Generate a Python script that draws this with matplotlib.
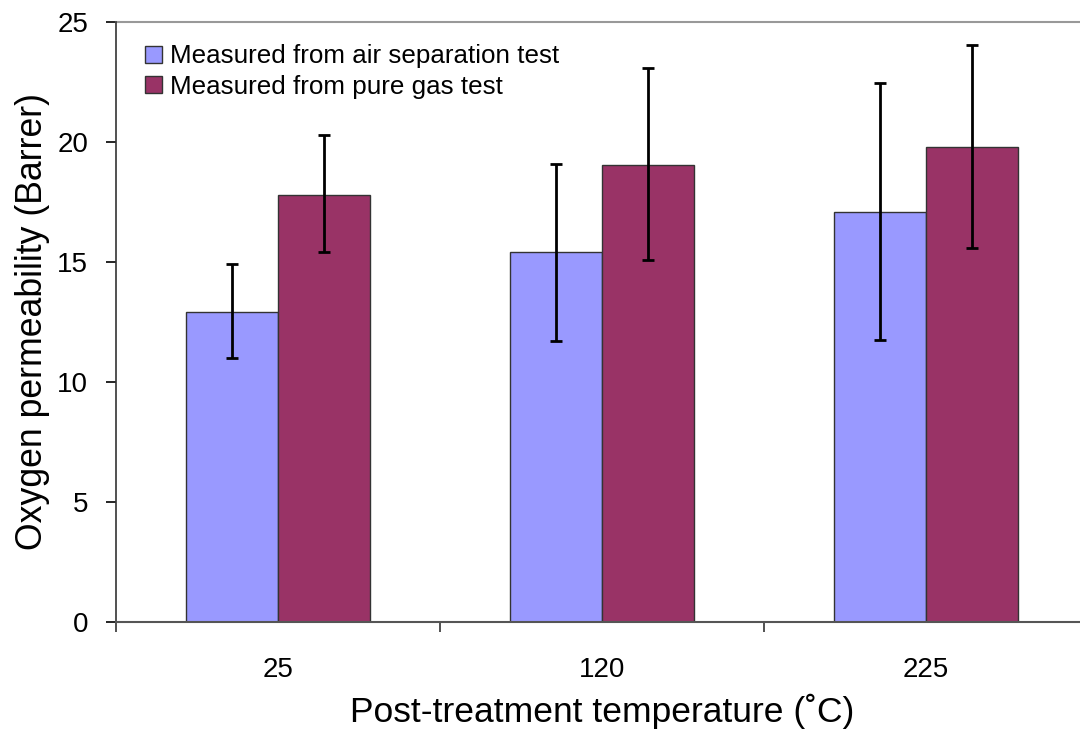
import matplotlib.pyplot as plt
import numpy as np

plt.rcParams['font.family'] = ['Liberation Sans', 'DejaVu Sans']

temps = ['25', '120', '225']
air_sep = [12.9, 15.4, 17.1]
air_lo = [11.0, 11.7, 11.75]
air_hi = [14.9, 19.1, 22.45]
pure_gas = [17.8, 19.05, 19.8]
pure_lo = [15.4, 15.1, 15.6]
pure_hi = [20.3, 23.1, 24.05]

air_sep = np.array(air_sep)
pure_gas = np.array(pure_gas)
air_err = [air_sep - np.array(air_lo), np.array(air_hi) - air_sep]
pure_err = [pure_gas - np.array(pure_lo), np.array(pure_hi) - pure_gas]

fig = plt.figure(figsize=(10.8, 7.31), dpi=100)
ax = fig.add_axes([116/1080, 1 - 622/731, 972/1080, 600/731])

x = np.arange(len(temps))
w = 0.284
ax.bar(x - w/2, air_sep, w, color='#9999FF', edgecolor='#333333', linewidth=1,
       label='Measured from air separation test')
ax.bar(x + w/2, pure_gas, w, color='#993366', edgecolor='#333333', linewidth=1,
       label='Measured from pure gas test')
ax.errorbar(x - w/2, air_sep, yerr=air_err, fmt='none', ecolor='black',
            elinewidth=2, capsize=4, capthick=2)
ax.errorbar(x + w/2, pure_gas, yerr=pure_err, fmt='none', ecolor='black',
            elinewidth=2, capsize=4, capthick=2)

ax.set_xlim(-0.5, 2.5)
ax.set_ylim(0, 25)
ax.axhline(25, color='#999999', linewidth=1.5, clip_on=False)

ax.set_yticks([0, 5, 10, 15, 20, 25])
ax.set_xticks(x)
ax.set_xticklabels(temps)
ax.set_xticks([-0.5, 0.5, 1.5], minor=True)
ax.tick_params(axis='x', which='major', length=0, pad=25, labelsize=20)
ax.tick_params(axis='x', which='minor', direction='out', length=7, width=1.2, color='#333333')
ax.tick_params(axis='y', direction='out', length=7, width=1.2, labelsize=20, pad=13)

for s in ['top', 'right']:
    ax.spines[s].set_visible(False)
ax.spines['left'].set_color('#333333')
ax.spines['left'].set_linewidth(1.2)
ax.spines['bottom'].set_color('#555555')
ax.spines['bottom'].set_linewidth(1.5)

ax.set_ylabel('Oxygen permeability (Barrer)', fontsize=25.7, labelpad=5)
ax.set_xlabel('Post-treatment temperature (˚C)', fontsize=25.5, labelpad=8)

ax.legend(loc='upper left', bbox_to_anchor=(0.011, 0.993), frameon=False, fontsize=18.7,
          handlelength=0.65, handleheight=0.65, handletextpad=0.3, labelspacing=0.25,
          borderaxespad=0.3)

fig.savefig('out.png', dpi=100)
